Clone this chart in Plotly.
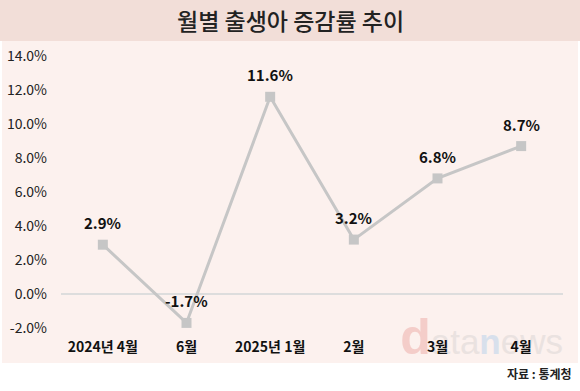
import plotly.graph_objects as go

categories = ["2024년 4월", "6월", "2025년 1월", "2월", "3월", "4월"]
values = [2.9, -1.7, 11.6, 3.2, 6.8, 8.7]
y_ticks = [-2, 0, 2, 4, 6, 8, 10, 12, 14]
y_tick_labels = [f"{v:.1f}%" for v in y_ticks]
title_text = "월별 출생아 증감률 추이"
source_text = "자료 : 통계청"

FONT = "Noto Sans CJK KR"
xs = list(range(len(categories)))

# plot area in page pixels: x 61..563, y 56..328
PL, PR, PT, PB = 61, 563, 56, 328
W, H = 580, 391
X0, X1, Y0, Y1 = -0.5, 5.5, -2, 14


def px(x):
    return (x - PL) / (PR - PL)


def py(y):
    return (PB - y) / (PB - PT)


fig = go.Figure()

# faint watermark behind everything (anchored at the plot's bottom-right corner)
fig.add_trace(go.Scatter(
    x=[X1], y=[Y0], mode="text", textposition="bottom left",
    text=["<b><span style='color:#F4CDC9;font-size:50px'>d</span></b>"
          "<span style='color:#EAE2E0'>ata</span>"
          "<b><span style='color:#D8E0EC'>n</span></b>"
          "<span style='color:#EAE2E0'>ews</span>"],
    textfont=dict(family="Liberation Sans", size=35),
    cliponaxis=False, hoverinfo="skip", showlegend=False,
))

fig.add_trace(go.Scatter(
    x=xs, y=values, mode="lines+markers",
    line=dict(color="#C6C6C6", width=3),
    marker=dict(symbol="square", size=10, color="#C6C6C6"),
    hoverinfo="skip", showlegend=False,
))

for x, v in zip(xs, values):
    fig.add_annotation(x=x, y=v, text=f"{v:.1f}%", showarrow=False,
                       yshift=22, yanchor="middle",
                       font=dict(family=FONT, size=15, color="#111111", weight=600))

shapes = [
    dict(type="rect", xref="paper", yref="paper", x0=px(0), x1=px(580), y0=py(41), y1=py(0),
         fillcolor="#F2DED8", line=dict(width=0), layer="below"),
    dict(type="rect", xref="paper", yref="paper", x0=px(2), x1=px(578), y0=py(363), y1=py(41),
         fillcolor="#FCF1EE", line=dict(width=0), layer="below"),
    dict(type="line", xref="paper", yref="y", x0=0, x1=1, y0=0, y1=0,
         line=dict(color="#DDDDDD", width=2), layer="below"),
]

fig.add_annotation(xref="paper", yref="paper", x=px(290), y=py(20),
                   xanchor="center", yanchor="middle",
                   text=title_text, showarrow=False,
                   font=dict(family=FONT, size=23, color="#222222", weight=500))
fig.add_annotation(xref="paper", yref="paper", x=px(574), y=py(373),
                   xanchor="right", yanchor="middle", text=source_text, showarrow=False,
                   font=dict(family=FONT, size=12, color="#222222", weight=700))

fig.update_layout(
    width=W, height=H,
    margin=dict(l=PL, r=W - PR, t=PT, b=H - PB),
    paper_bgcolor="#FFFFFF", plot_bgcolor="rgba(0,0,0,0)",
    shapes=shapes,
    xaxis=dict(range=[X0, X1], tickvals=xs, ticktext=categories, automargin=False,
               showgrid=False, zeroline=False, showline=False, ticks="",
               ticklabelstandoff=9,
               tickfont=dict(family=FONT, size=14, color="#111111", weight=600)),
    yaxis=dict(range=[Y0, Y1], tickvals=y_ticks, ticktext=y_tick_labels, automargin=False,
               showgrid=False, zeroline=False, showline=False, ticks="",
               ticklabelstandoff=13,
               tickfont=dict(family=FONT, size=14, color="#222222")),
)

fig.write_html("out.html", config={"displayModeBar": False},
               post_script="document.body.style.margin='0px';")
